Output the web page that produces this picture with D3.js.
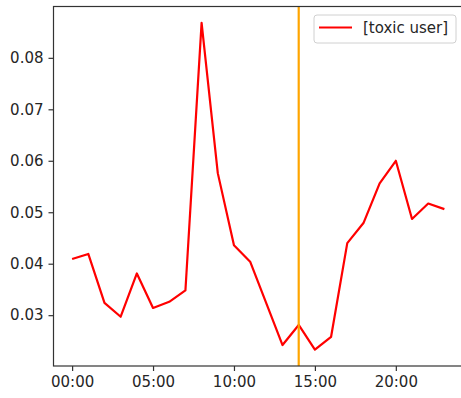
<!DOCTYPE html>
<html>
<head>
<meta charset="utf-8">
<script src="https://cdn.jsdelivr.net/npm/d3@7"></script>
<style>
  body { margin: 0; background: #fff; }
  text { font-family: "DejaVu Sans", sans-serif; }
</style>
</head>
<body>
<div id="chart"></div>
<script>
// Hourly share for the toxic user group
var hours = d3.range(0, 24);
var toxicUser = [0.0409, 0.0419, 0.0324, 0.0297, 0.0381, 0.0314, 0.0326, 0.0348,
  0.0868, 0.0576, 0.0436, 0.0404, 0.0323, 0.0242, 0.0281, 0.0233,
  0.0258, 0.0440, 0.0479, 0.0556, 0.0600, 0.0487, 0.0517, 0.0506];
var markerHour = 14;
var xTickHours = [0, 5, 10, 15, 20];
var xTickLabels = ["00:00", "05:00", "10:00", "15:00", "20:00"];
var yTicks = [0.03, 0.04, 0.05, 0.06, 0.07, 0.08];
var legendLabel = "[toxic user]";

var svgWidth = 461;
var svgHeight = 398;

var margin = { top: 6.5, right: -2, bottom: 32, left: 53.5 };
var width = svgWidth - margin.left - margin.right;
var height = svgHeight - margin.top - margin.bottom;

var svg = d3.select("#chart")
  .append("svg")
  .attr("width", svgWidth)
  .attr("height", svgHeight);

var chartGroup = svg.append("g")
  .attr("transform", `translate(${margin.left}, ${margin.top})`);

// matplotlib style 5% margins
var xPad = 23 * 0.05;
var yMin = d3.min(toxicUser), yMax = d3.max(toxicUser);
var yPad = (yMax - yMin) * 0.05;

var xScale = d3.scaleLinear()
  .domain([-xPad, 23 + xPad])
  .range([0, width]);

var yScale = d3.scaleLinear()
  .domain([yMin - yPad, yMax + yPad])
  .range([height, 0]);

var bottomAxis = d3.axisBottom(xScale)
  .tickValues(xTickHours)
  .tickFormat((d, i) => xTickLabels[i])
  .tickSize(5)
  .tickPadding(5);

var leftAxis = d3.axisLeft(yScale)
  .tickValues(yTicks)
  .tickFormat(d3.format(".2f"))
  .tickSize(5)
  .tickPadding(5);

// data line
var line = d3.line()
  .x((d, i) => xScale(hours[i]))
  .y(d => yScale(d));

chartGroup.append("path")
  .datum(toxicUser)
  .attr("d", line)
  .attr("fill", "none")
  .attr("stroke", "red")
  .attr("stroke-width", 2.2)
  .attr("stroke-linejoin", "round");

// vertical marker line
chartGroup.append("line")
  .attr("x1", xScale(markerHour))
  .attr("x2", xScale(markerHour))
  .attr("y1", 0)
  .attr("y2", height)
  .attr("stroke", "orange")
  .attr("stroke-width", 2.2);

// frame
chartGroup.append("rect")
  .attr("width", width)
  .attr("height", height)
  .attr("fill", "none")
  .attr("stroke", "#333")
  .attr("stroke-width", 1.2);

var xAxisG = chartGroup.append("g")
  .attr("transform", `translate(0, ${height})`)
  .call(bottomAxis);

var yAxisG = chartGroup.append("g")
  .call(leftAxis);

[xAxisG, yAxisG].forEach(function (g) {
  g.select(".domain").remove();
  g.selectAll(".tick line").attr("stroke", "#333").attr("stroke-width", 1.2);
  g.selectAll(".tick text")
    .attr("fill", "#262626")
    .style("font-size", "15px");
});

// legend
var legend = chartGroup.append("g")
  .attr("transform", `translate(${314 - margin.left}, ${15 - margin.top})`);

legend.append("rect")
  .attr("width", 142)
  .attr("height", 28)
  .attr("rx", 3)
  .attr("fill", "#fff")
  .attr("fill-opacity", 0.8)
  .attr("stroke", "#d0d0d0")
  .attr("stroke-width", 1);

legend.append("line")
  .attr("x1", 5)
  .attr("x2", 38)
  .attr("y1", 12.5)
  .attr("y2", 12.5)
  .attr("stroke", "red")
  .attr("stroke-width", 2.2);

legend.append("text")
  .attr("x", 49)
  .attr("y", 12.5)
  .attr("dy", "0.35em")
  .attr("fill", "#262626")
  .style("font-size", "15px")
  .text(legendLabel);
</script>
</body>
</html>
